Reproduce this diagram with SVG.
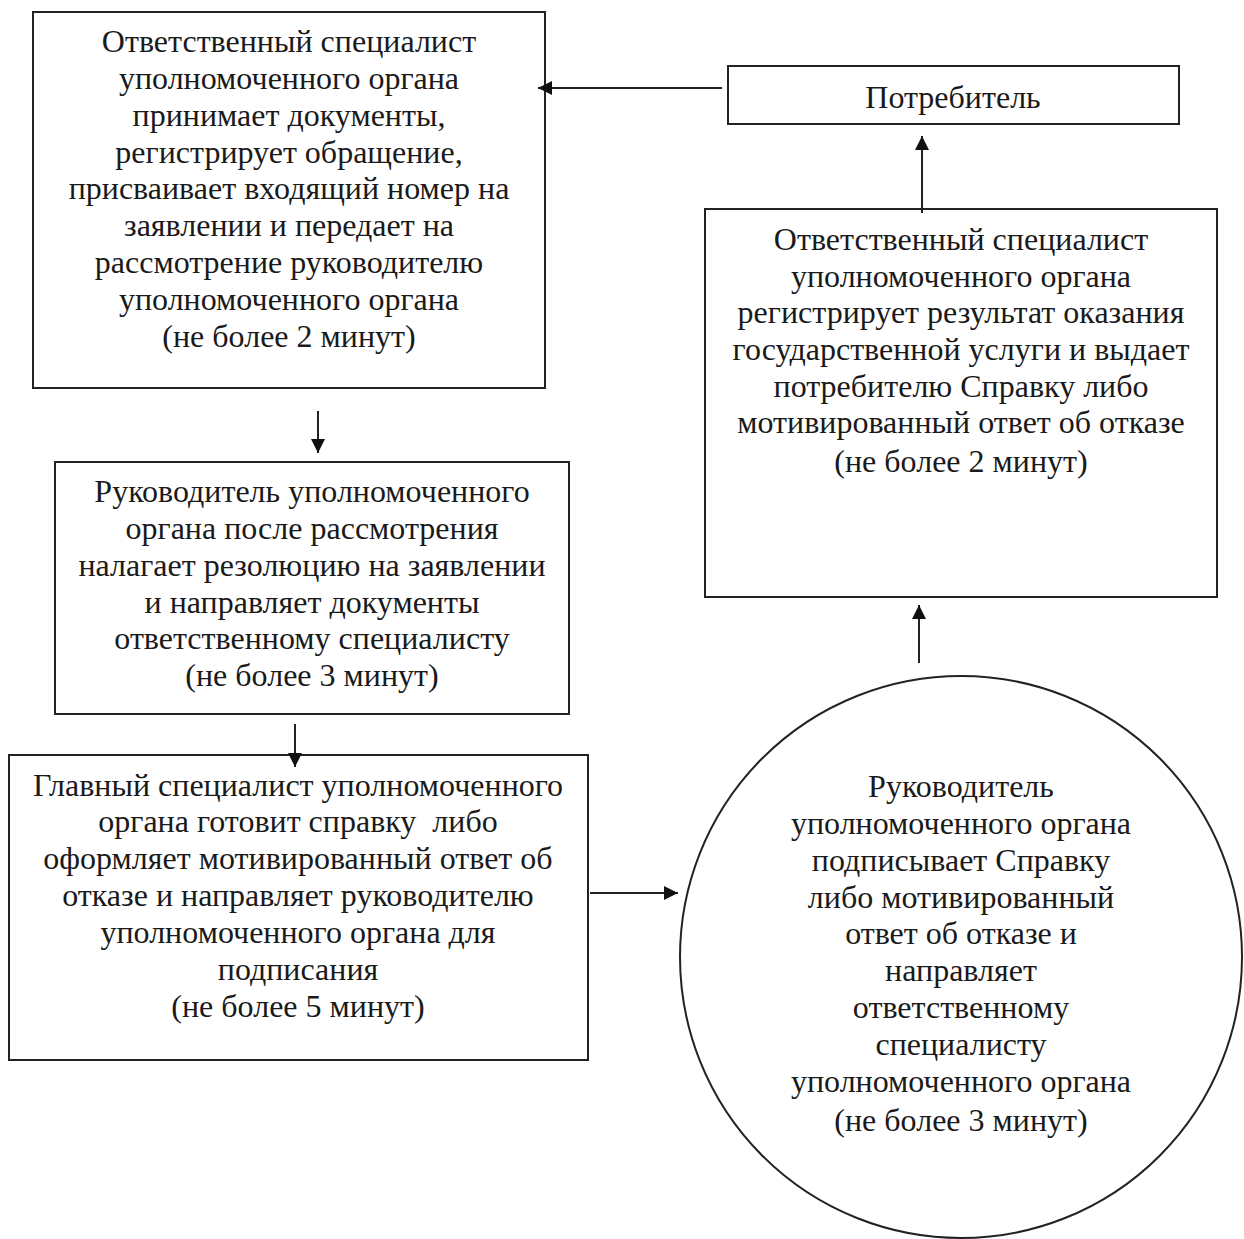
<svg xmlns="http://www.w3.org/2000/svg" width="1244" height="1239" viewBox="0 0 1244 1239">
<style>
.box{fill:#fff;stroke:#222;stroke-width:2}
.t{font-family:'Liberation Serif','Times New Roman',Tinos,'DejaVu Serif',serif;font-size:32px;fill:#1a1a1a;text-anchor:middle}
.c{stroke:#222;stroke-width:2;fill:none}
</style>
<defs>
<marker id="ah" viewBox="0 0 10 10" refX="10" refY="5" markerWidth="14" markerHeight="14" markerUnits="userSpaceOnUse" orient="auto">
<path d="M0,0 L10,5 L0,10 z" fill="#111"/>
</marker>
</defs>
<rect width="1244" height="1239" fill="#fff"/>
<g id="nodeA">
<rect class="box" x="33" y="12" width="512" height="376"/>
<text class="t"><tspan x="289" y="52">Ответственный специалист</tspan><tspan x="289" y="89">уполномоченного органа</tspan><tspan x="289" y="126">принимает документы,</tspan><tspan x="289" y="163">регистрирует обращение,</tspan><tspan x="289" y="199">присваивает входящий номер на</tspan><tspan x="289" y="236">заявлении и передает на</tspan><tspan x="289" y="273">рассмотрение руководителю</tspan><tspan x="289" y="310">уполномоченного органа</tspan><tspan x="289" y="347">(не более 2 минут)</tspan></text>
</g>
<g id="nodeConsumer">
<rect class="box" x="728" y="66" width="451" height="58"/>
<text class="t" x="953" y="108">Потребитель</text>
</g>
<g id="nodeR">
<rect class="box" x="705" y="209" width="512" height="388"/>
<text class="t"><tspan x="961" y="250">Ответственный специалист</tspan><tspan x="961" y="287">уполномоченного органа</tspan><tspan x="961" y="323">регистрирует результат оказания</tspan><tspan x="961" y="360">государственной услуги и выдает</tspan><tspan x="961" y="397">потребителю Справку либо</tspan><tspan x="961" y="433">мотивированный ответ об отказе</tspan><tspan x="961" y="472">(не более 2 минут)</tspan></text>
</g>
<g id="nodeB">
<rect class="box" x="55" y="462" width="514" height="252"/>
<text class="t"><tspan x="312" y="502">Руководитель уполномоченного</tspan><tspan x="312" y="539">органа после рассмотрения</tspan><tspan x="312" y="576">налагает резолюцию на заявлении</tspan><tspan x="312" y="613">и направляет документы</tspan><tspan x="312" y="649">ответственному специалисту</tspan><tspan x="312" y="686">(не более 3 минут)</tspan></text>
</g>
<g id="nodeC">
<rect class="box" x="9" y="755" width="579" height="305"/>
<text class="t"><tspan x="298" y="796">Главный специалист уполномоченного</tspan><tspan x="298" y="832" xml:space="preserve">органа готовит справку  либо</tspan><tspan x="298" y="869">оформляет мотивированный ответ об</tspan><tspan x="298" y="906">отказе и направляет руководителю</tspan><tspan x="298" y="943">уполномоченного органа для</tspan><tspan x="298" y="980">подписания</tspan><tspan x="298" y="1017">(не более 5 минут)</tspan></text>
</g>
<g id="nodeCircle">
<ellipse class="box" cx="961" cy="957" rx="281" ry="281"/>
<text class="t"><tspan x="961" y="797">Руководитель</tspan><tspan x="961" y="834">уполномоченного органа</tspan><tspan x="961" y="871">подписывает Справку</tspan><tspan x="961" y="908">либо мотивированный</tspan><tspan x="961" y="944">ответ об отказе и</tspan><tspan x="961" y="981">направляет</tspan><tspan x="961" y="1018">ответственному</tspan><tspan x="961" y="1055">специалисту</tspan><tspan x="961" y="1092">уполномоченного органа</tspan><tspan x="961" y="1131">(не более 3 минут)</tspan></text>
</g>
<g id="connectors">
<line class="c" x1="722" y1="88" x2="538" y2="88" marker-end="url(#ah)"/>
<line class="c" x1="318" y1="411" x2="318" y2="453" marker-end="url(#ah)"/>
<line class="c" x1="295" y1="724" x2="295" y2="767" marker-end="url(#ah)"/>
<line class="c" x1="590" y1="893" x2="678" y2="893" marker-end="url(#ah)"/>
<line class="c" x1="919" y1="663" x2="919" y2="605" marker-end="url(#ah)"/>
<line class="c" x1="922" y1="213" x2="922" y2="136" marker-end="url(#ah)"/>
</g>
</svg>
